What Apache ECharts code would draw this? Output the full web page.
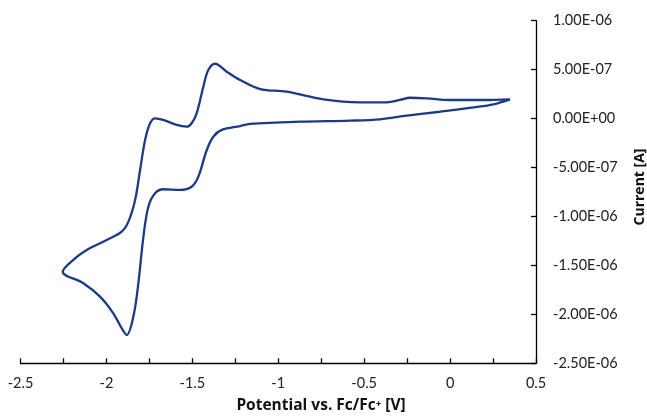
<!DOCTYPE html>
<html>
<head>
<meta charset="utf-8">
<script src="https://cdn.jsdelivr.net/npm/echarts@6/dist/echarts.min.js"></script>
<style>html,body{margin:0;padding:0;background:#fff}#c{width:647px;height:416px}</style>
</head>
<body>
<div id="c"></div>
<script>
// Potential (V vs Fc/Fc+) and current (A), in scan order (cathodic then anodic)
const potential = [
  0.349, 0.252, 0.136, -0.058, -0.252, -0.407, -0.582, -0.873, -1.164, -1.222,
  -1.329, -1.378, -1.416, -1.465, -1.504, -1.572, -1.669, -1.717, -1.756, -1.785,
  -1.814, -1.843, -1.882, -1.911, -1.960, -2.037, -2.134, -2.254,
  -2.193, -2.115, -1.998, -1.911, -1.872, -1.833, -1.804, -1.775, -1.746, -1.717,
  -1.669, -1.591, -1.533, -1.504, -1.475, -1.436, -1.407, -1.368, -1.300, -1.222,
  -1.106, -0.951, -0.737, -0.524, -0.369, -0.291, -0.233, -0.136, 0.0, 0.194, 0.349
];
const current = [
  0.197e-6, 0.146e-6, 0.115e-6, 0.070e-6, 0.030e-6, -0.007e-6, -0.021e-6, -0.032e-6, -0.055e-6, -0.076e-6,
  -0.116e-6, -0.185e-6, -0.321e-6, -0.593e-6, -0.696e-6, -0.729e-6, -0.722e-6, -0.763e-6, -0.90e-6, -1.21e-6,
  -1.68e-6, -2.02e-6, -2.21e-6, -2.142e-6, -1.989e-6, -1.819e-6, -1.682e-6, -1.564e-6,
  -1.444e-6, -1.342e-6, -1.240e-6, -1.155e-6, -1.053e-6, -0.831e-6, -0.525e-6, -0.219e-6, -0.048e-6, 0.003e-6,
  -0.014e-6, -0.065e-6, -0.083e-6, -0.048e-6, 0.054e-6, 0.326e-6, 0.496e-6, 0.560e-6, 0.479e-6, 0.394e-6,
  0.302e-6, 0.275e-6, 0.197e-6, 0.166e-6, 0.166e-6, 0.190e-6, 0.213e-6, 0.207e-6, 0.190e-6, 0.190e-6, 0.197e-6
];
const xTitle = 'Potential vs. Fc/Fc\u207A [V]';
const yTitle = 'Current [A]';

function sciLabel(v) {
  if (Math.abs(v) < 1e-15) v = 0;
  const s = v.toExponential(2).toUpperCase();
  const m = s.match(/^(-?[\d.]+)E([+-])(\d+)$/);
  if (!m) return s;
  const e = m[3].length < 2 ? '0' + m[3] : m[3];
  return m[1] + 'E' + m[2] + e;
}

const data = potential.map((p, i) => [p, current[i]]);
const chart = echarts.init(document.getElementById('c'), null, {renderer: 'canvas'});
const tickFont = 'Lato, "Open Sans", sans-serif';
const titleFont = '"Open Sans", Lato, sans-serif';
chart.setOption({
  animation: false,
  backgroundColor: '#fff',
  grid: {left: 20.5, right: 111, top: 20.7, bottom: 52.7},
  xAxis: {
    type: 'value', min: -2.5, max: 0.5, interval: 0.25,
    axisLine: {onZero: false, lineStyle: {color: '#000', width: 1.3}},
    axisTick: {inside: true, length: 5, lineStyle: {color: '#000', width: 1.3}},
    splitLine: {show: false},
    axisLabel: {
      color: '#222', fontFamily: tickFont, fontSize: 14.5, margin: 13,
      formatter: v => (Math.abs(v * 2 - Math.round(v * 2)) < 1e-9) ? String(Math.round(v * 100) / 100) : ''
    }
  },
  yAxis: {
    type: 'value', position: 'right', min: -2.5e-6, max: 1e-6, interval: 5e-7,
    axisLine: {show: true, onZero: false, lineStyle: {color: '#000', width: 1.3}},
    axisTick: {show: true, inside: true, length: 5, lineStyle: {color: '#000', width: 1.3}},
    splitLine: {show: false},
    axisLabel: {color: '#222', fontFamily: tickFont, fontSize: 14.5, margin: 17, formatter: sciLabel}
  },
  graphic: [
    {type: 'text', x: 321, y: 406, style: {text: xTitle, font: 'bold 15.5px ' + titleFont, fill: '#111', textAlign: 'center', textVerticalAlign: 'middle'}},
    {type: 'text', x: 640, y: 187, rotation: Math.PI / 2, style: {text: yTitle, font: 'bold 14px ' + titleFont, fill: '#111', textAlign: 'center', textVerticalAlign: 'middle'}}
  ],
  series: [{
    type: 'line', data: data, showSymbol: false, symbol: 'none', smooth: 0.35,
    lineStyle: {color: '#1c3a85', width: 2.3}
  }]
});
</script>
</body>
</html>
